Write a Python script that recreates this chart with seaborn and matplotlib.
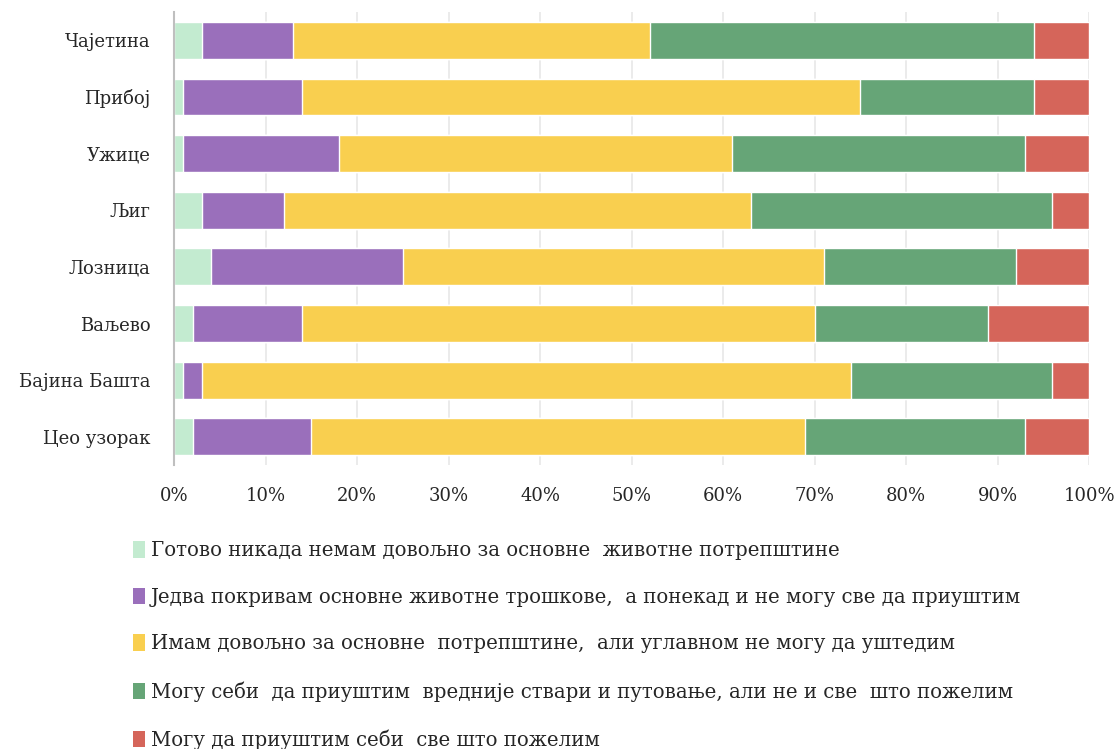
import numpy as np
import pandas as pd
import matplotlib.pyplot as plt
import seaborn as sns
from matplotlib.patches import Patch
from matplotlib.ticker import PercentFormatter

# categories (top to bottom)
places = ["Чајетина", "Прибој", "Ужице", "Љиг", "Лозница", "Ваљево",
          "Бајина Башта", "Цео узорак"]

# answer groups, in stacking order (left to right)
answers = [
    "Готово никада немам довољно за основне  животне потрепштине",
    "Једва покривам основне животне трошкове,  а понекад и не могу све да приуштим",
    "Имам довољно за основне  потрепштине,  али углавном не могу да уштедим",
    "Могу себи  да приуштим  вредније ствари и путовање, али не и све  што пожелим",
    "Могу да приуштим себи  све што пожелим",
]

# shares in percent per place
never_enough = [3, 1, 1, 3, 4, 2, 1, 2]
barely = [10, 13, 17, 9, 21, 12, 2, 13]
basics = [39, 61, 43, 51, 46, 56, 71, 54]
valuable = [42, 19, 32, 33, 21, 19, 22, 24]
anything = [6, 6, 7, 4, 8, 11, 4, 7]

colors = ["#c3ebd0", "#9a6fbb", "#f9cf4f", "#66a577", "#d5655a"]

sns.set_theme(style="white")
plt.rcParams["font.family"] = ["DejaVu Serif", "Liberation Serif"]

df = pd.DataFrame({"place": places})
series = [never_enough, barely, basics, valuable, anything]
cum = np.cumsum(np.array(series, dtype=float), axis=0)

fig = plt.figure(figsize=(11.17, 7.49), dpi=100)
ax = fig.add_axes([0.156, 0.379, 0.819, 0.605])

# draw cumulative totals from the widest down so each segment shows
for i in range(len(series) - 1, -1, -1):
    df["value"] = cum[i]
    sns.barplot(data=df, y="place", x="value", color=colors[i], width=0.65,
                saturation=1, ax=ax, orient="h")

ax.set_xlim(0, 100)
ax.set_xticks(np.arange(0, 101, 10))
ax.xaxis.set_major_formatter(PercentFormatter(decimals=0))
ax.set_xlabel("")
ax.set_ylabel("")
ax.grid(axis="x", color="#d9d9d9", linewidth=1.2)
for line in ax.get_xgridlines():
    line.set_zorder(3)
    line.set_alpha(0.6)
for s in ["top", "right", "bottom"]:
    ax.spines[s].set_visible(False)
ax.spines["left"].set_color("#bfbfbf")
ax.spines["left"].set_linewidth(1.5)
ax.tick_params(axis="both", length=0, labelsize=13, colors="#262626")
ax.tick_params(axis="x", pad=16)
ax.tick_params(axis="y", pad=17)

handles = [Patch(facecolor=c, edgecolor="none") for c in colors]
fig.legend(handles, answers, loc="upper left", bbox_to_anchor=(0.112, 0.288),
           frameon=False, fontsize=14.2, handlelength=0.6, handleheight=0.9,
           handletextpad=0.3, labelspacing=1.4, borderaxespad=0)

fig.savefig("out.png", dpi=100)
